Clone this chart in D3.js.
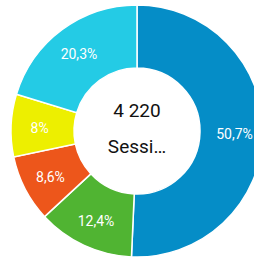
<!DOCTYPE html>
<html>
<head>
<script src="https://cdn.jsdelivr.net/npm/d3@7"></script>
<style>
  body { margin: 0; background: #fff; }
  svg { display: block; font-family: Roboto, "Noto Sans", sans-serif; }
</style>
</head>
<body>
<svg id="chart" width="254" height="259"></svg>
<script>
// Data
var categories = ["A", "B", "C", "D", "E"];
var shares = [50.7, 12.4, 8.6, 8, 20.3];
var labels = ["50,7%", "12,4%", "8,6%", "8%", "20,3%"];
var colors = ["#058DC7", "#50B432", "#ED561B", "#EDEF00", "#24CBE5"];
var total = "4 220";
var centerLabel = "Sessi\u2026";

var cx = 137, cy = 131;
var outer = 126, inner = 63;

var svg = d3.select("svg#chart");
var g = svg.append("g").attr("transform", "translate(" + cx + "," + cy + ")");

var pie = d3.pie().sort(null).value(function(d) { return d; });
var arc = d3.arc().innerRadius(inner).outerRadius(outer);
var labelArc = d3.arc().innerRadius(inner + 3).outerRadius(outer + 3);
var arcs = pie(shares);

// Slices
g.selectAll("path").data(arcs).enter().append("path")
    .attr("d", arc)
    .attr("fill", function(d, i) { return colors[i]; })
    .attr("stroke", "#fff").attr("stroke-width", 1.5);

// Slice labels
g.selectAll("text.lbl").data(arcs).enter().append("text")
    .attr("class", "lbl")
    .attr("transform", function(d) { return "translate(" + labelArc.centroid(d) + ")"; })
    .attr("text-anchor", "middle").attr("dy", "0.45em")
    .attr("fill", "#fff").style("font-size", "14px")
    .text(function(d, i) { return labels[i]; });

// Center text
g.append("text").attr("text-anchor", "middle").attr("y", -21).attr("dy", "0.35em")
    .attr("fill", "#111").style("font-size", "19px").text(total);
g.append("text").attr("text-anchor", "middle").attr("y", 15).attr("dy", "0.35em")
    .attr("fill", "#111").style("font-size", "19px").text(centerLabel);
</script>
</body>
</html>
